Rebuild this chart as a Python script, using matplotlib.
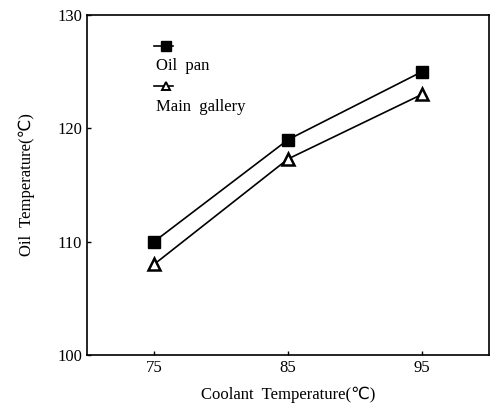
import matplotlib.pyplot as plt

plt.rcParams['font.family'] = ['Liberation Serif', 'DejaVu Sans']

coolant = [75, 85, 95]
oil_pan = [110, 119, 125]
main_gallery = [108, 117.3, 123]
xticks = [75, 85, 95]
yticks = [100, 110, 120, 130]

fig = plt.figure(figsize=(5, 4.11), dpi=100)
ax = fig.add_axes([0.174, 0.136, 0.804, 0.8275])

ax.plot(coolant, oil_pan, color='black', lw=1.2, marker='s', ms=8.5,
        mfc='black', mec='black')
ax.plot(coolant, main_gallery, color='black', lw=1.2, marker='^', ms=9,
        mfc='white', mec='black', mew=1.8)

ax.set_xlim(70, 100)
ax.set_ylim(100, 130)
ax.set_xticks(xticks)
ax.set_yticks(yticks)
ax.tick_params(direction='in', length=3, labelsize=12, width=1)
for s in ax.spines.values():
    s.set_linewidth(1.2)

ax.set_xlabel('Coolant  Temperature(℃)', fontsize=12, labelpad=8)
ax.set_ylabel('Oil  Temperature(℃)', fontsize=12, labelpad=16)

# stacked legend: marker above label
ax.plot([0.167, 0.197, 0.214], [0.91, 0.91, 0.91], transform=ax.transAxes,
        color='black', lw=1.2, marker='s', ms=7, markevery=[1], clip_on=False)
ax.text(0.172, 0.85, 'Oil  pan', transform=ax.transAxes, fontsize=12, va='center')
ax.plot([0.167, 0.197, 0.214], [0.79, 0.79, 0.79], transform=ax.transAxes,
        color='black', lw=1.2, marker='^', ms=6, mfc='white', mew=1.4,
        markevery=[1], clip_on=False)
ax.text(0.172, 0.73, 'Main  gallery', transform=ax.transAxes, fontsize=12, va='center')

fig.savefig('out.png', dpi=100)
